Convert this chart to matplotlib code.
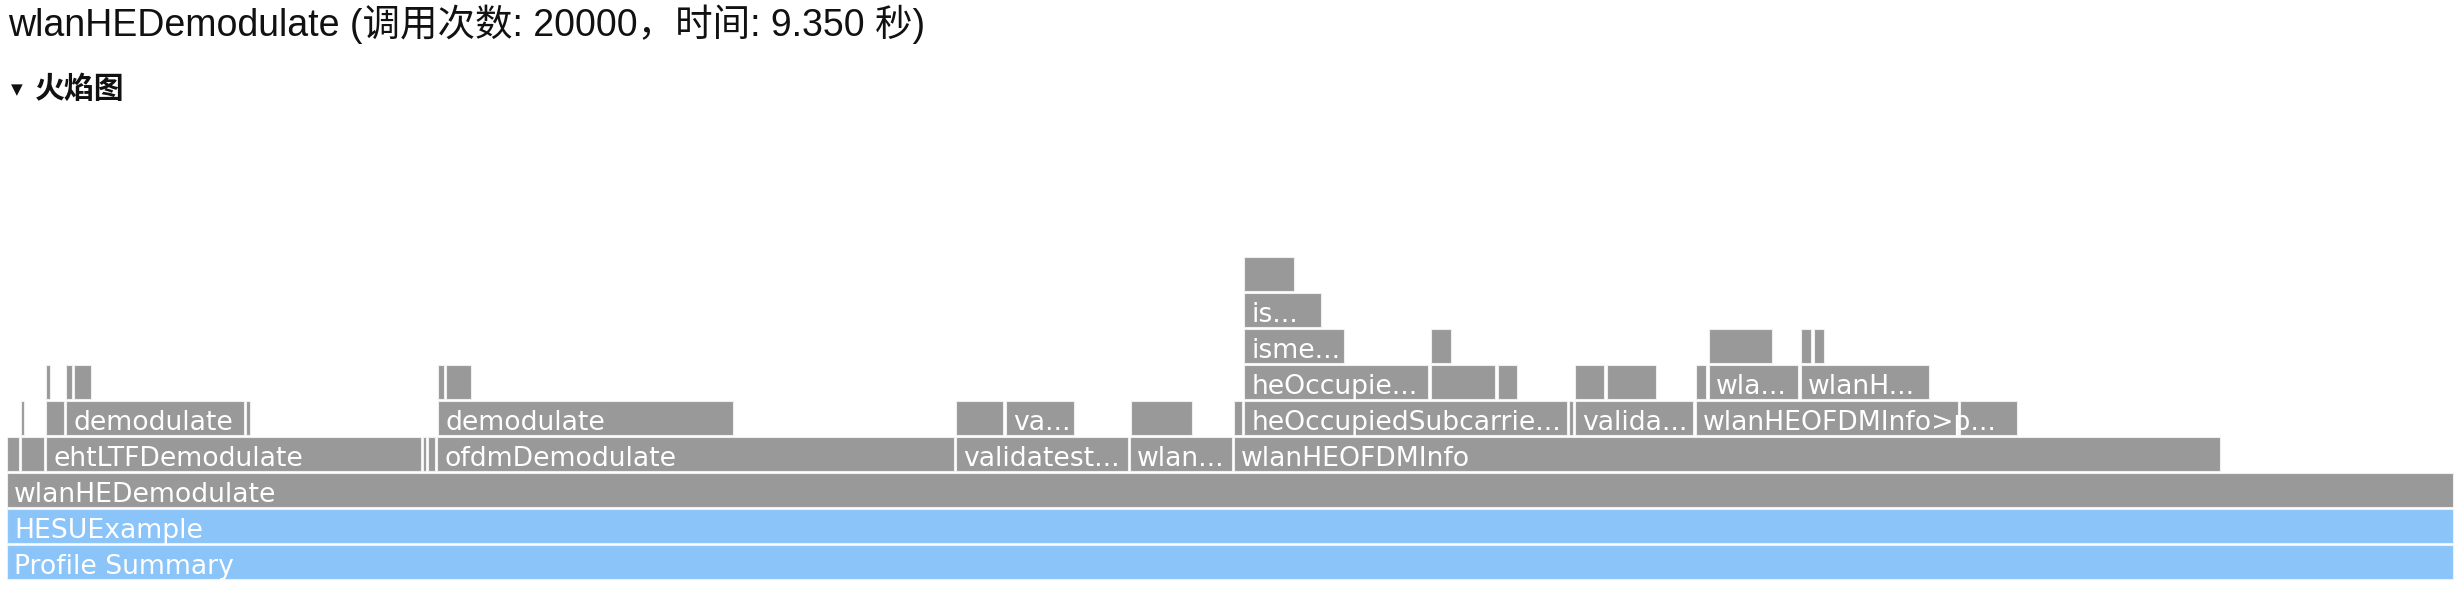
import matplotlib
matplotlib.use("Agg")
import matplotlib.pyplot as plt
from matplotlib.patches import Rectangle

# ---------------- data (times in ms, total 9.350 s) ----------------
title_text = "wlanHEDemodulate (调用次数: 20000，时间: 9.350 秒)"
section_text = "火焰图"

frame_level = [0, 1, 2,
               3, 3, 3, 3, 3, 3, 3, 3, 3,
               4, 4, 4, 4, 4, 4, 4, 4, 4, 4, 4, 4, 4, 4,
               5, 5, 5, 5, 5, 5, 5, 5, 5, 5, 5, 5, 5,
               6, 6, 6, 6, 6,
               7,
               8]
frame_start = [0, 0, 0,
               0, 53.5, 149.1, 1590.2, 1609.3, 1643.7, 3627.6, 4292.8, 4690.3,
               53.5, 149.1, 225.5, 913.6, 1647.5, 3627.6, 3818.8, 4296.6, 4690.3, 4728.6, 5970.9, 5993.8, 6456.4, 7465.6,
               149.1, 225.5, 256.1, 1647.5, 1678.1, 4728.6, 5443.4, 5699.5, 5993.8, 6116.2, 6456.4, 6506.1, 6857.7,
               4728.6, 5443.4, 6506.1, 6857.7, 6907.4,
               4728.6,
               4728.6]
frame_end = [9350, 9350, 9350,
             45.9, 141.4, 1582.6, 1601.7, 1636.1, 3620.0, 4285.1, 4682.7, 8459.4,
             65.0, 217.9, 906.0, 928.9, 2775.2, 3807.3, 4078.7, 4529.8, 4720.9, 5963.3, 5986.2, 6444.9, 7458.0, 7683.5,
             164.4, 248.5, 321.1, 1670.5, 1773.7, 5431.9, 5688.0, 5772.1, 6104.7, 6303.5, 6494.6, 6846.3, 7347.1,
             5110.8, 5519.9, 6746.9, 6896.0, 6945.7,
             5022.9,
             4919.7]
frame_label = ["Profile Summary", "HESUExample", "wlanHEDemodulate",
               "", "", "ehtLTFDemodulate", "", "", "ofdmDemodulate", "validatest...", "wlan...", "wlanHEOFDMInfo",
               "", "", "demodulate", "", "demodulate", "", "va...", "", "", "heOccupiedSubcarrie...", "", "valida...",
               "wlanHEOFDMInfo>p...", "",
               "", "", "", "", "", "heOccupie...", "", "", "", "", "", "wla...", "wlanH...",
               "isme...", "", "", "", "",
               "is...",
               ""]

# ---------------- figure ----------------
W, H, DPI = 2462, 600, 100
fig = plt.figure(figsize=(W / DPI, H / DPI), dpi=DPI)
fig.patch.set_facecolor("white")
ax = fig.add_axes([0, 0, 1, 1])
ax.axis("off")

total_ms = 9350.0
px_per_ms = 2446.0 / total_ms          # root bar spans 2446 px
left_px = 7
ax.set_xlim(-left_px / px_per_ms, (W - left_px) / px_per_ms)
row_px = 36.0
bottom_px = 21.0
ax.set_ylim(-bottom_px / row_px, (H - bottom_px) / row_px)

bar_h = 34.0 / 36.0
gray = "#999999"
blue = "#8ac4f9"
edge = "#efefef"

# bars first, labels afterwards (labels on top)
for lev, s, e in zip(frame_level, frame_start, frame_end):
    color = blue if lev < 2 else gray
    ax.add_patch(Rectangle((s, lev), e - s, bar_h, facecolor=color,
                           edgecolor=edge, linewidth=0.8, zorder=1))
for lev, s, lab in zip(frame_level, frame_start, frame_label):
    if lab:
        ax.annotate(lab, (s, lev), xytext=(5.2, 3.8), textcoords="offset points",
                    ha="left", va="baseline", color="white", fontsize=19.2,
                    family="DejaVu Sans", annotation_clip=False, zorder=3)

# header texts
fig.text(8 / W, (H - 36) / H, title_text, ha="left", va="baseline",
         fontsize=27, color="#111111",
         family=["Liberation Sans", "Noto Sans CJK SC", "DejaVu Sans"])
fig.text(11 / W, (H - 90) / H, "▼", ha="left", va="center",
         fontsize=11, color="#111111", family="DejaVu Sans")
fig.text(35 / W, (H - 89) / H, section_text, ha="left", va="center",
         fontsize=21.5, color="#111111", fontweight="bold",
         family=["Noto Sans CJK SC", "DejaVu Sans"])

fig.savefig("out.png", dpi=DPI, facecolor="white")
